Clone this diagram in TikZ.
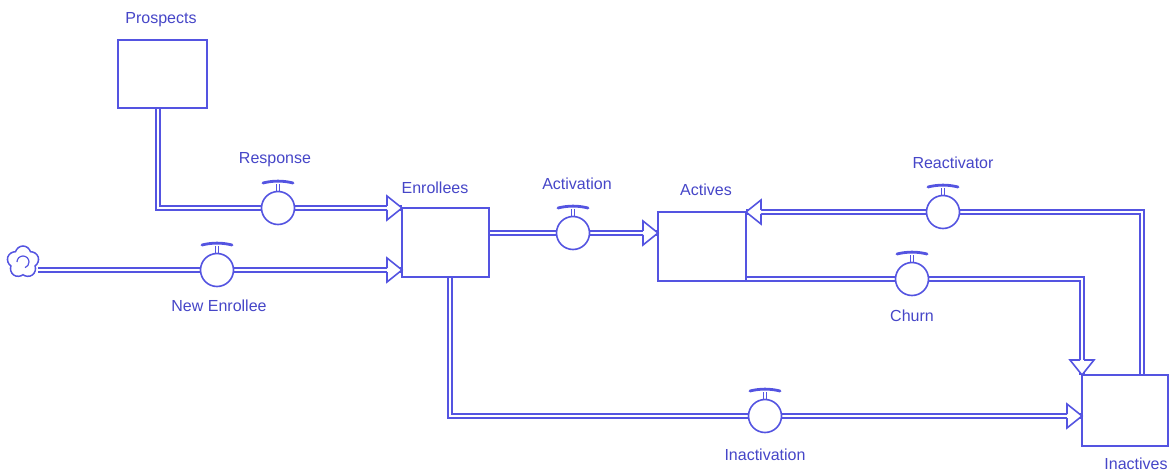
\documentclass[tikz,border=0pt]{standalone}
\usepackage{fontspec}
\setmainfont{Liberation Sans}
\usetikzlibrary{calc,shapes.symbols}
\definecolor{sdline}{RGB}{84,84,225}
\definecolor{sdtext}{RGB}{70,70,200}
\tikzset{
  stock/.style={draw=sdline, line width=1.6pt, fill=white, rectangle,
    inner sep=0pt, outer sep=0pt},
  pipe/.style={draw=sdline, line width=1.7pt, double=white, double distance=2.4pt},
  valve/.style={draw=sdline, line width=1.6pt, fill=white, circle,
    minimum size=33pt, inner sep=0pt, outer sep=0pt},
  lbl/.style={text=sdtext, font=\fontsize{16}{19}\selectfont, inner sep=0pt},
  flowhead/.pic={
    \path[fill=white] (0,0) -- (-15,12) -- (-15,-12) -- cycle;
    \draw[sdline, line width=1.6pt, line join=miter]
      (-15,2) -- (-15,12) -- (0,0) -- (-15,-12) -- (-15,-2);
  },
  handle/.pic={
    \draw[sdline, line width=1.3pt] (-1.8,-16) -- (-1.8,-24) (1.8,-16) -- (1.8,-24);
    \draw[sdline, line width=2.8pt, line cap=round]
      (-15,-25) .. controls (-5,-27.5) and (5,-27.5) .. (15,-25);
  }
}
\begin{document}
\begin{tikzpicture}[x=1pt, y=-1pt]
\useasboundingbox[fill=white] (0,0) rectangle (1170,473);

% stocks
\node[stock, minimum width=89pt, minimum height=68pt] (prospects) at (162.5,74) {};
\node[stock, minimum width=87pt, minimum height=69pt] (enrollees) at (445.5,242.5) {};
\node[stock, minimum width=88pt, minimum height=69pt] (actives) at (702,246.5) {};
\node[stock, minimum width=86pt, minimum height=71pt] (inactives) at (1125,410.5) {};

% source cloud
\node[cloud, cloud puffs=5, aspect=1, draw=sdline, line width=1.5pt, fill=white,
      minimum size=32pt, inner sep=0pt] (src) at (23,262) {};
\draw[sdline, line width=1.2pt] (src.center) ++(-6,0) arc[start angle=180, end angle=-70, radius=6pt];
\coordinate (srcout) at (38,270);

% valve positions on the pipes
\coordinate (vresp) at (278,208);
\coordinate (vnew) at (217,270);
\coordinate (vact) at (573,233);
\coordinate (vreact) at (943,212);
\coordinate (vchurn) at (912,279);
\coordinate (vinact) at (765,416);
\coordinate (rcorner) at (1142,212);

% pipes
\draw[pipe] ([xshift=-4.5pt]prospects.south) |- (enrollees.north west);
\draw[pipe] (srcout) -- (enrollees.west |- srcout);
\draw[pipe] (enrollees.east |- vact) -- (actives.west |- vact);
\draw[pipe] (rcorner |- inactives.north) -- (rcorner) -- (actives.north east);
\draw[pipe] ([yshift=2pt]actives.south east) -- (inactives.north west |- vchurn) -- (inactives.north west);
\draw[pipe] ([xshift=4.5pt]enrollees.south) |- (inactives.west |- vinact);

% stock borders drawn over the pipe ends
\foreach \s in {prospects, enrollees, actives, inactives}
  \draw[sdline, line width=1.6pt] (\s.north west) rectangle (\s.south east);

% valves
\foreach \v/\n in {vresp/response, vnew/newenrollee, vact/activation,
                   vreact/reactivator, vchurn/churn, vinact/inactivation} {
  \node[valve] (\n) at (\v) {};
  \pic at (\n) {handle};
}

% flow arrowheads
\pic at (enrollees.north west) {flowhead};
\pic at (enrollees.west |- srcout) {flowhead};
\pic at (actives.west |- vact) {flowhead};
\pic[rotate=180] at (actives.north east) {flowhead};
\pic[rotate=-90] at (inactives.north west) {flowhead};
\pic at (inactives.west |- vinact) {flowhead};

% labels
\node[lbl] (lprospects) at (161,20) {Prospects};
\node[lbl] (lresponse) at (275,160) {Response};
\node[lbl] (lenrollees) at (435,188) {Enrollees};
\node[lbl] (lactivation) at (577,184) {Activation};
\node[lbl] (lactives) at (706,190) {Actives};
\node[lbl] (lnew) at (219,306) {New Enrollee};
\node[lbl] (lreact) at (953,163) {Reactivator};
\node[lbl] (lchurn) at (912,316) {Churn};
\node[lbl] (linact) at (765,455) {Inactivation};
\node[lbl] (linactives) at (1136,464) {Inactives};
\end{tikzpicture}
\end{document}
